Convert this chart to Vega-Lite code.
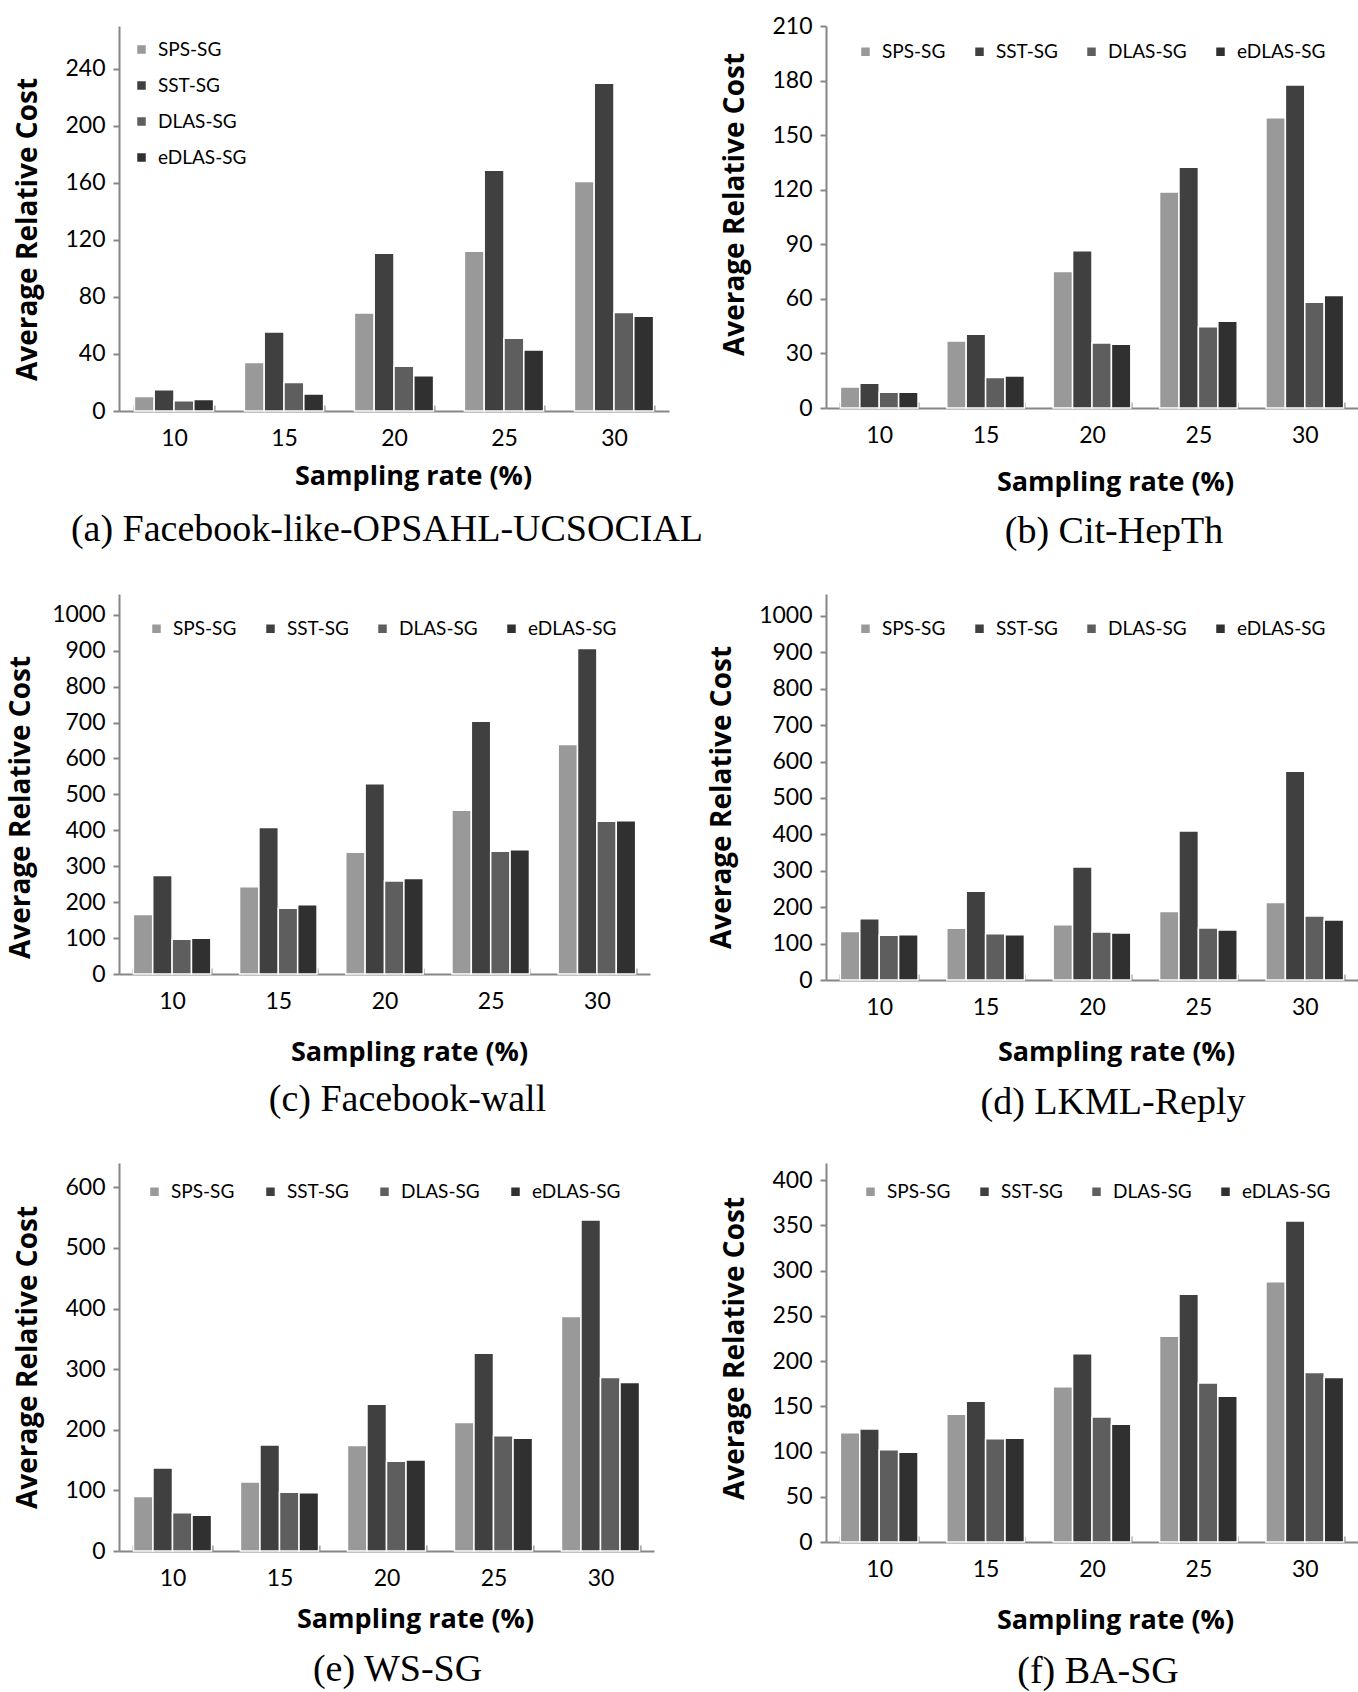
{
  "$schema": "https://vega.github.io/schema/vega-lite/v6.json",
  "description": "Average relative cost by sampling rate for six graphs, four sampling algorithms each.",
  "padding": {"left": 7, "top": 15, "right": 0, "bottom": 0},
  "background": "white",
  "data": {
    "values": [
      {"panel": "a", "rate": 10, "series": "SPS-SG", "value": 10.2},
      {"panel": "a", "rate": 10, "series": "SST-SG", "value": 14.9},
      {"panel": "a", "rate": 10, "series": "DLAS-SG", "value": 7.2},
      {"panel": "a", "rate": 10, "series": "eDLAS-SG", "value": 8.1},
      {"panel": "a", "rate": 15, "series": "SPS-SG", "value": 34},
      {"panel": "a", "rate": 15, "series": "SST-SG", "value": 55.4},
      {"panel": "a", "rate": 15, "series": "DLAS-SG", "value": 20},
      {"panel": "a", "rate": 15, "series": "eDLAS-SG", "value": 11.9},
      {"panel": "a", "rate": 20, "series": "SPS-SG", "value": 68.7},
      {"panel": "a", "rate": 20, "series": "SST-SG", "value": 110.6},
      {"panel": "a", "rate": 20, "series": "DLAS-SG", "value": 31.4},
      {"panel": "a", "rate": 20, "series": "eDLAS-SG", "value": 24.7},
      {"panel": "a", "rate": 25, "series": "SPS-SG", "value": 112},
      {"panel": "a", "rate": 25, "series": "SST-SG", "value": 168.8},
      {"panel": "a", "rate": 25, "series": "DLAS-SG", "value": 51},
      {"panel": "a", "rate": 25, "series": "eDLAS-SG", "value": 42.8},
      {"panel": "a", "rate": 30, "series": "SPS-SG", "value": 160.9},
      {"panel": "a", "rate": 30, "series": "SST-SG", "value": 229.8},
      {"panel": "a", "rate": 30, "series": "DLAS-SG", "value": 69.1},
      {"panel": "a", "rate": 30, "series": "eDLAS-SG", "value": 66.4},
      {"panel": "b", "rate": 10, "series": "SPS-SG", "value": 11.6},
      {"panel": "b", "rate": 10, "series": "SST-SG", "value": 13.6},
      {"panel": "b", "rate": 10, "series": "DLAS-SG", "value": 8.7},
      {"panel": "b", "rate": 10, "series": "eDLAS-SG", "value": 8.7},
      {"panel": "b", "rate": 15, "series": "SPS-SG", "value": 36.9},
      {"panel": "b", "rate": 15, "series": "SST-SG", "value": 40.6},
      {"panel": "b", "rate": 15, "series": "DLAS-SG", "value": 16.7},
      {"panel": "b", "rate": 15, "series": "eDLAS-SG", "value": 17.6},
      {"panel": "b", "rate": 20, "series": "SPS-SG", "value": 75.1},
      {"panel": "b", "rate": 20, "series": "SST-SG", "value": 86.4},
      {"panel": "b", "rate": 20, "series": "DLAS-SG", "value": 35.7},
      {"panel": "b", "rate": 20, "series": "eDLAS-SG", "value": 35.1},
      {"panel": "b", "rate": 25, "series": "SPS-SG", "value": 118.8},
      {"panel": "b", "rate": 25, "series": "SST-SG", "value": 132.4},
      {"panel": "b", "rate": 25, "series": "DLAS-SG", "value": 44.6},
      {"panel": "b", "rate": 25, "series": "eDLAS-SG", "value": 47.7},
      {"panel": "b", "rate": 30, "series": "SPS-SG", "value": 159.5},
      {"panel": "b", "rate": 30, "series": "SST-SG", "value": 177.6},
      {"panel": "b", "rate": 30, "series": "DLAS-SG", "value": 58.2},
      {"panel": "b", "rate": 30, "series": "eDLAS-SG", "value": 61.9},
      {"panel": "c", "rate": 10, "series": "SPS-SG", "value": 166},
      {"panel": "c", "rate": 10, "series": "SST-SG", "value": 274},
      {"panel": "c", "rate": 10, "series": "DLAS-SG", "value": 97},
      {"panel": "c", "rate": 10, "series": "eDLAS-SG", "value": 99.5},
      {"panel": "c", "rate": 15, "series": "SPS-SG", "value": 243},
      {"panel": "c", "rate": 15, "series": "SST-SG", "value": 408},
      {"panel": "c", "rate": 15, "series": "DLAS-SG", "value": 183},
      {"panel": "c", "rate": 15, "series": "eDLAS-SG", "value": 193},
      {"panel": "c", "rate": 20, "series": "SPS-SG", "value": 339},
      {"panel": "c", "rate": 20, "series": "SST-SG", "value": 530},
      {"panel": "c", "rate": 20, "series": "DLAS-SG", "value": 259},
      {"panel": "c", "rate": 20, "series": "eDLAS-SG", "value": 266},
      {"panel": "c", "rate": 25, "series": "SPS-SG", "value": 456},
      {"panel": "c", "rate": 25, "series": "SST-SG", "value": 704},
      {"panel": "c", "rate": 25, "series": "DLAS-SG", "value": 342},
      {"panel": "c", "rate": 25, "series": "eDLAS-SG", "value": 346},
      {"panel": "c", "rate": 30, "series": "SPS-SG", "value": 639},
      {"panel": "c", "rate": 30, "series": "SST-SG", "value": 906},
      {"panel": "c", "rate": 30, "series": "DLAS-SG", "value": 425},
      {"panel": "c", "rate": 30, "series": "eDLAS-SG", "value": 427},
      {"panel": "d", "rate": 10, "series": "SPS-SG", "value": 133},
      {"panel": "d", "rate": 10, "series": "SST-SG", "value": 168},
      {"panel": "d", "rate": 10, "series": "DLAS-SG", "value": 123},
      {"panel": "d", "rate": 10, "series": "eDLAS-SG", "value": 124},
      {"panel": "d", "rate": 15, "series": "SPS-SG", "value": 142},
      {"panel": "d", "rate": 15, "series": "SST-SG", "value": 244},
      {"panel": "d", "rate": 15, "series": "DLAS-SG", "value": 127},
      {"panel": "d", "rate": 15, "series": "eDLAS-SG", "value": 124},
      {"panel": "d", "rate": 20, "series": "SPS-SG", "value": 152},
      {"panel": "d", "rate": 20, "series": "SST-SG", "value": 310},
      {"panel": "d", "rate": 20, "series": "DLAS-SG", "value": 132},
      {"panel": "d", "rate": 20, "series": "eDLAS-SG", "value": 129},
      {"panel": "d", "rate": 25, "series": "SPS-SG", "value": 188},
      {"panel": "d", "rate": 25, "series": "SST-SG", "value": 409},
      {"panel": "d", "rate": 25, "series": "DLAS-SG", "value": 143},
      {"panel": "d", "rate": 25, "series": "eDLAS-SG", "value": 137},
      {"panel": "d", "rate": 30, "series": "SPS-SG", "value": 213},
      {"panel": "d", "rate": 30, "series": "SST-SG", "value": 573},
      {"panel": "d", "rate": 30, "series": "DLAS-SG", "value": 176},
      {"panel": "d", "rate": 30, "series": "eDLAS-SG", "value": 165},
      {"panel": "e", "rate": 10, "series": "SPS-SG", "value": 90},
      {"panel": "e", "rate": 10, "series": "SST-SG", "value": 137},
      {"panel": "e", "rate": 10, "series": "DLAS-SG", "value": 63},
      {"panel": "e", "rate": 10, "series": "eDLAS-SG", "value": 59},
      {"panel": "e", "rate": 15, "series": "SPS-SG", "value": 114},
      {"panel": "e", "rate": 15, "series": "SST-SG", "value": 175},
      {"panel": "e", "rate": 15, "series": "DLAS-SG", "value": 97},
      {"panel": "e", "rate": 15, "series": "eDLAS-SG", "value": 96},
      {"panel": "e", "rate": 20, "series": "SPS-SG", "value": 174},
      {"panel": "e", "rate": 20, "series": "SST-SG", "value": 242},
      {"panel": "e", "rate": 20, "series": "DLAS-SG", "value": 148},
      {"panel": "e", "rate": 20, "series": "eDLAS-SG", "value": 150},
      {"panel": "e", "rate": 25, "series": "SPS-SG", "value": 212},
      {"panel": "e", "rate": 25, "series": "SST-SG", "value": 326},
      {"panel": "e", "rate": 25, "series": "DLAS-SG", "value": 190},
      {"panel": "e", "rate": 25, "series": "eDLAS-SG", "value": 186},
      {"panel": "e", "rate": 30, "series": "SPS-SG", "value": 387},
      {"panel": "e", "rate": 30, "series": "SST-SG", "value": 546},
      {"panel": "e", "rate": 30, "series": "DLAS-SG", "value": 286},
      {"panel": "e", "rate": 30, "series": "eDLAS-SG", "value": 278},
      {"panel": "f", "rate": 10, "series": "SPS-SG", "value": 120.7},
      {"panel": "f", "rate": 10, "series": "SST-SG", "value": 124.9},
      {"panel": "f", "rate": 10, "series": "DLAS-SG", "value": 102},
      {"panel": "f", "rate": 10, "series": "eDLAS-SG", "value": 99.3},
      {"panel": "f", "rate": 15, "series": "SPS-SG", "value": 141.3},
      {"panel": "f", "rate": 15, "series": "SST-SG", "value": 155.5},
      {"panel": "f", "rate": 15, "series": "DLAS-SG", "value": 114.2},
      {"panel": "f", "rate": 15, "series": "eDLAS-SG", "value": 114.6},
      {"panel": "f", "rate": 20, "series": "SPS-SG", "value": 171.5},
      {"panel": "f", "rate": 20, "series": "SST-SG", "value": 208.2},
      {"panel": "f", "rate": 20, "series": "DLAS-SG", "value": 138.3},
      {"panel": "f", "rate": 20, "series": "eDLAS-SG", "value": 130.3},
      {"panel": "f", "rate": 25, "series": "SPS-SG", "value": 227.6},
      {"panel": "f", "rate": 25, "series": "SST-SG", "value": 273.9},
      {"panel": "f", "rate": 25, "series": "DLAS-SG", "value": 175.7},
      {"panel": "f", "rate": 25, "series": "eDLAS-SG", "value": 161.2},
      {"panel": "f", "rate": 30, "series": "SPS-SG", "value": 287.6},
      {"panel": "f", "rate": 30, "series": "SST-SG", "value": 354.9},
      {"panel": "f", "rate": 30, "series": "DLAS-SG", "value": 187.5},
      {"panel": "f", "rate": 30, "series": "eDLAS-SG", "value": 181.8}
    ]
  },
  "columns": 2,
  "bounds": "flush",
  "spacing": {"row": 183, "column": 157},
  "resolve": {
    "scale": {"x": "independent", "y": "independent", "xOffset": "independent", "color": "independent"},
    "legend": {"color": "independent"}
  },
  "concat": [
    {
      "width": 550,
      "height": 385,
      "transform": [{"filter": "datum.panel == 'a'"}],
      "title": {"text": "(a) Facebook-like-OPSAHL-UCSOCIAL", "dx": -7, "offset": 22},
      "mark": "bar",
      "encoding": {
        "x": {
          "field": "rate",
          "type": "ordinal",
          "scale": {"paddingInner": 0.28, "paddingOuter": 0.14},
          "axis": {"title": "Sampling rate (%)", "titleX": 294, "titlePadding": 13}
        },
        "xOffset": {"field": "series", "sort": ["SPS-SG", "SST-SG", "DLAS-SG", "eDLAS-SG"]},
        "y": {
          "field": "value",
          "type": "quantitative",
          "scale": {"domain": [0, 270], "nice": false},
          "axis": {"title": "Average Relative Cost", "titleY": 203, "values": [0, 40, 80, 120, 160, 200, 240]}
        },
        "color": {
          "field": "series",
          "sort": ["SPS-SG", "SST-SG", "DLAS-SG", "eDLAS-SG"],
          "scale": {"range": ["#999999", "#404040", "#5e5e5e", "#303030"]},
          "legend": {"orient": "none", "legendX": 13, "legendY": 14, "direction": "vertical", "rowPadding": 16}
        }
      }
    },
    {
      "width": 532,
      "height": 382,
      "transform": [{"filter": "datum.panel == 'b'"}],
      "title": {"text": "(b) Cit-HepTh", "dx": 22, "offset": 18},
      "mark": "bar",
      "encoding": {
        "x": {
          "field": "rate",
          "type": "ordinal",
          "scale": {"paddingInner": 0.27, "paddingOuter": 0.135},
          "axis": {"title": "Sampling rate (%)", "titleX": 289, "titlePadding": 22}
        },
        "xOffset": {"field": "series", "sort": ["SPS-SG", "SST-SG", "DLAS-SG", "eDLAS-SG"]},
        "y": {
          "field": "value",
          "type": "quantitative",
          "scale": {"domain": [0, 210], "nice": false},
          "axis": {"title": "Average Relative Cost", "titleY": 178, "values": [0, 30, 60, 90, 120, 150, 180, 210]}
        },
        "color": {
          "field": "series",
          "sort": ["SPS-SG", "SST-SG", "DLAS-SG", "eDLAS-SG"],
          "scale": {"range": ["#999999", "#404040", "#5e5e5e", "#303030"]},
          "legend": {"orient": "none", "legendX": 30, "legendY": 16, "direction": "horizontal", "columns": 4, "columnPadding": 24}
        }
      }
    },
    {
      "width": 531,
      "height": 380,
      "transform": [{"filter": "datum.panel == 'c'"}],
      "title": {"text": "(c) Facebook-wall", "dx": 23, "offset": 16},
      "mark": "bar",
      "encoding": {
        "x": {
          "field": "rate",
          "type": "ordinal",
          "scale": {"paddingInner": 0.27, "paddingOuter": 0.135},
          "axis": {"title": "Sampling rate (%)", "titleX": 290, "titlePadding": 26}
        },
        "xOffset": {"field": "series", "sort": ["SPS-SG", "SST-SG", "DLAS-SG", "eDLAS-SG"]},
        "y": {
          "field": "value",
          "type": "quantitative",
          "scale": {"domain": [0, 1058], "nice": false},
          "axis": {"title": "Average Relative Cost", "titleY": 213, "titlePadding": 16, "values": [0, 100, 200, 300, 400, 500, 600, 700, 800, 900, 1000], "format": "d"}
        },
        "color": {
          "field": "series",
          "sort": ["SPS-SG", "SST-SG", "DLAS-SG", "eDLAS-SG"],
          "scale": {"range": ["#999999", "#404040", "#5e5e5e", "#303030"]},
          "legend": {"orient": "none", "legendX": 28, "legendY": 25, "direction": "horizontal", "columns": 4, "columnPadding": 24}
        }
      }
    },
    {
      "width": 532,
      "height": 386,
      "transform": [{"filter": "datum.panel == 'd'"}],
      "title": {"text": "(d) LKML-Reply", "dx": 21, "offset": 19},
      "mark": "bar",
      "encoding": {
        "x": {
          "field": "rate",
          "type": "ordinal",
          "scale": {"paddingInner": 0.27, "paddingOuter": 0.135},
          "axis": {"title": "Sampling rate (%)", "titleX": 290, "titlePadding": 20}
        },
        "xOffset": {"field": "series", "sort": ["SPS-SG", "SST-SG", "DLAS-SG", "eDLAS-SG"]},
        "y": {
          "field": "value",
          "type": "quantitative",
          "scale": {"domain": [0, 1060], "nice": false},
          "axis": {"title": "Average Relative Cost", "titleY": 203, "values": [0, 100, 200, 300, 400, 500, 600, 700, 800, 900, 1000], "format": "d"}
        },
        "color": {
          "field": "series",
          "sort": ["SPS-SG", "SST-SG", "DLAS-SG", "eDLAS-SG"],
          "scale": {"range": ["#999999", "#404040", "#5e5e5e", "#303030"]},
          "legend": {"orient": "none", "legendX": 30, "legendY": 25, "direction": "horizontal", "columns": 4, "columnPadding": 24}
        }
      }
    },
    {
      "width": 535,
      "height": 388,
      "transform": [{"filter": "datum.panel == 'e'"}],
      "title": {"text": "(e) WS-SG", "dx": 11, "offset": 19},
      "mark": "bar",
      "encoding": {
        "x": {
          "field": "rate",
          "type": "ordinal",
          "scale": {"paddingInner": 0.27, "paddingOuter": 0.135},
          "axis": {"title": "Sampling rate (%)", "titleX": 296, "titlePadding": 16}
        },
        "xOffset": {"field": "series", "sort": ["SPS-SG", "SST-SG", "DLAS-SG", "eDLAS-SG"]},
        "y": {
          "field": "value",
          "type": "quantitative",
          "scale": {"domain": [0, 640], "nice": false},
          "axis": {"title": "Average Relative Cost", "titleY": 194, "values": [0, 100, 200, 300, 400, 500, 600]}
        },
        "color": {
          "field": "series",
          "sort": ["SPS-SG", "SST-SG", "DLAS-SG", "eDLAS-SG"],
          "scale": {"range": ["#999999", "#404040", "#5e5e5e", "#303030"]},
          "legend": {"orient": "none", "legendX": 26, "legendY": 19, "direction": "horizontal", "columns": 4, "columnPadding": 26}
        }
      }
    },
    {
      "width": 532,
      "height": 379,
      "transform": [{"filter": "datum.panel == 'f'"}],
      "title": {"text": "(f) BA-SG", "dx": 6, "offset": 20},
      "mark": "bar",
      "encoding": {
        "x": {
          "field": "rate",
          "type": "ordinal",
          "scale": {"paddingInner": 0.27, "paddingOuter": 0.135},
          "axis": {"title": "Sampling rate (%)", "titleX": 289, "titlePadding": 26}
        },
        "xOffset": {"field": "series", "sort": ["SPS-SG", "SST-SG", "DLAS-SG", "eDLAS-SG"]},
        "y": {
          "field": "value",
          "type": "quantitative",
          "scale": {"domain": [0, 419], "nice": false},
          "axis": {"title": "Average Relative Cost", "titleY": 185, "values": [0, 50, 100, 150, 200, 250, 300, 350, 400]}
        },
        "color": {
          "field": "series",
          "sort": ["SPS-SG", "SST-SG", "DLAS-SG", "eDLAS-SG"],
          "scale": {"range": ["#999999", "#404040", "#5e5e5e", "#303030"]},
          "legend": {"orient": "none", "legendX": 35, "legendY": 19, "direction": "horizontal", "columns": 4, "columnPadding": 24}
        }
      }
    }
  ],
  "config": {
    "view": {"stroke": null},
    "bar": {"stroke": "white", "strokeWidth": 1.5},
    "axis": {
      "grid": false,
      "labelFont": "Lato",
      "labelFontSize": 23,
      "labelColor": "#000000",
      "titleFont": "Open Sans",
      "titleFontWeight": "bold",
      "titleColor": "#000000",
      "domainColor": "#868686",
      "domainWidth": 2,
      "tickColor": "#868686",
      "tickWidth": 2
    },
    "axisX": {"labelAngle": 0, "tickBand": "extent", "tickSize": -6, "labelPadding": 22, "titleFontSize": 27},
    "axisY": {"tickSize": 6, "labelPadding": 8, "titlePadding": 22, "titleFontSize": 28},
    "legend": {
      "title": null,
      "labelFont": "Lato",
      "labelFontSize": 19,
      "labelColor": "#000000",
      "labelOffset": 7,
      "symbolType": "square",
      "symbolSize": 100,
      "symbolStrokeWidth": 0
    },
    "title": {
      "orient": "bottom",
      "anchor": "middle",
      "font": "Liberation Serif",
      "fontSize": 38,
      "fontWeight": "normal",
      "color": "#000000"
    }
  }
}
